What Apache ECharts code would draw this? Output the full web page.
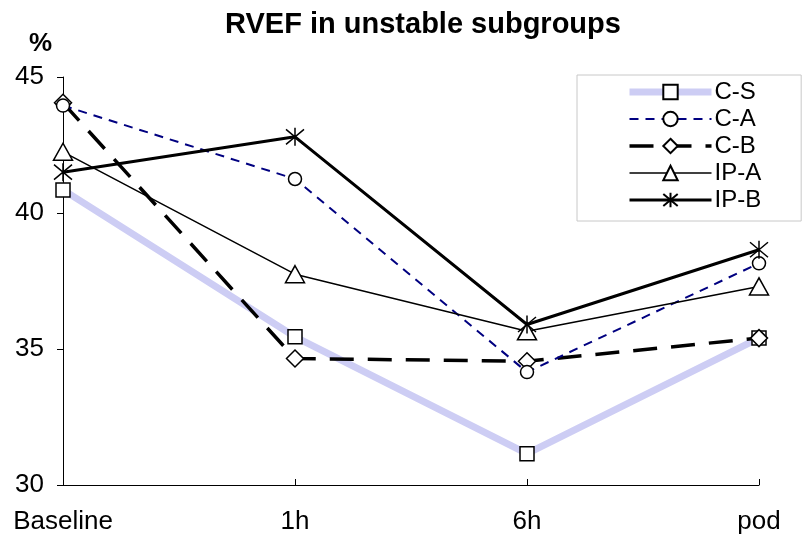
<!DOCTYPE html>
<html><head><meta charset="utf-8">
<script src="https://cdn.jsdelivr.net/npm/echarts@6/dist/echarts.min.js"></script>
<style>html,body{margin:0;padding:0;background:#fff}#c{width:803px;height:541px}</style>
</head><body><div id="c"></div>
<script>
const categories = ['Baseline', '1h', '6h', 'pod'];
const seriesNames = ['C-S', 'C-A', 'C-B', 'IP-A', 'IP-B'];
const cS = [40.85, 35.45, 31.15, 35.4];
const cA = [43.95, 41.25, 34.15, 38.15];
const cB = [44.05, 34.65, 34.55, 35.4];
const ipA = [42.25, 37.75, 35.65, 37.3];
const ipB = [41.5, 42.8, 35.9, 38.65];
const yTicks = [30, 35, 40, 45];

const F = 'Liberation Sans, Arial, sans-serif';
const asterisk = 'path://M0,0 L10,10 M10,0 L0,10 M5,-1 L5,11';
const sym = {color: '#fff', borderColor: '#000', borderWidth: 1.5};

const styles = {
  'C-S': {color: '#cdcdf4', width: 7, type: 'solid'},
  'C-A': {color: '#000080', width: 2, type: [9, 7]},
  'C-B': {color: '#000', width: 3.5, type: [24, 14]},
  'IP-A': {color: '#000', width: 1.5, type: 'solid'},
  'IP-B': {color: '#000', width: 3, type: 'solid'}
};

const chart = echarts.init(document.getElementById('c'));
chart.setOption({
  animation: false,
  backgroundColor: '#fff',
  title: {text: 'RVEF in unstable subgroups', left: 418, textAlign: 'center', top: 5,
    textStyle: {fontFamily: F, fontSize: 29, fontWeight: 'bold', color: '#000'}},
  graphic: [{type: 'text', left: 29, top: 31, style: {text: '%', font: 'bold 26px ' + F, fill: '#000'}}],
  grid: {left: 63, right: 44, top: 77, bottom: 56},
  legend: {
    orient: 'vertical', left: 577, top: 75,
    padding: [4, 40, 8, 49], itemGap: 1, itemWidth: 82, itemHeight: 18,
    borderColor: '#c8c8c8', borderWidth: 1,
    textStyle: {fontFamily: F, fontSize: 24, lineHeight: 26, color: '#000', padding: [0, 0, 0, -2]},
    data: seriesNames.map(n => ({name: n, lineStyle: styles[n]}))
  },
  xAxis: {
    type: 'category', data: categories, boundaryGap: false,
    axisLine: {lineStyle: {color: '#000', width: 1}},
    axisTick: {show: true, length: 6, inside: true, lineStyle: {color: '#000'}},
    axisLabel: {fontFamily: F, fontSize: 26, color: '#000', margin: 24},
    splitLine: {show: false}
  },
  yAxis: {
    type: 'value', min: yTicks[0], max: yTicks[yTicks.length - 1], interval: 5,
    axisLine: {show: true, lineStyle: {color: '#000', width: 1}},
    axisTick: {show: true, length: 6, lineStyle: {color: '#000'}},
    axisLabel: {fontFamily: F, fontSize: 26, color: '#000', margin: 19},
    splitLine: {show: false}
  },
  series: [
    {name: 'C-S', type: 'line', data: cS, symbol: 'rect', symbolSize: 14, z: 1,
     lineStyle: styles['C-S'], itemStyle: sym},
    {name: 'C-A', type: 'line', data: cA, symbol: 'circle', symbolSize: 13, z: 3,
     lineStyle: styles['C-A'], itemStyle: sym},
    {name: 'C-B', type: 'line', data: cB, symbol: 'diamond', symbolSize: [17, 17], z: 2,
     lineStyle: styles['C-B'], itemStyle: sym},
    {name: 'IP-A', type: 'line', data: ipA, symbol: 'triangle', symbolSize: [19, 17], z: 4,
     lineStyle: styles['IP-A'], itemStyle: sym},
    {name: 'IP-B', type: 'line', data: ipB, symbol: asterisk, symbolSize: 18, z: 5,
     lineStyle: styles['IP-B'], itemStyle: {color: 'none', borderColor: '#000', borderWidth: 1.5}}
  ]
});
</script></body></html>
